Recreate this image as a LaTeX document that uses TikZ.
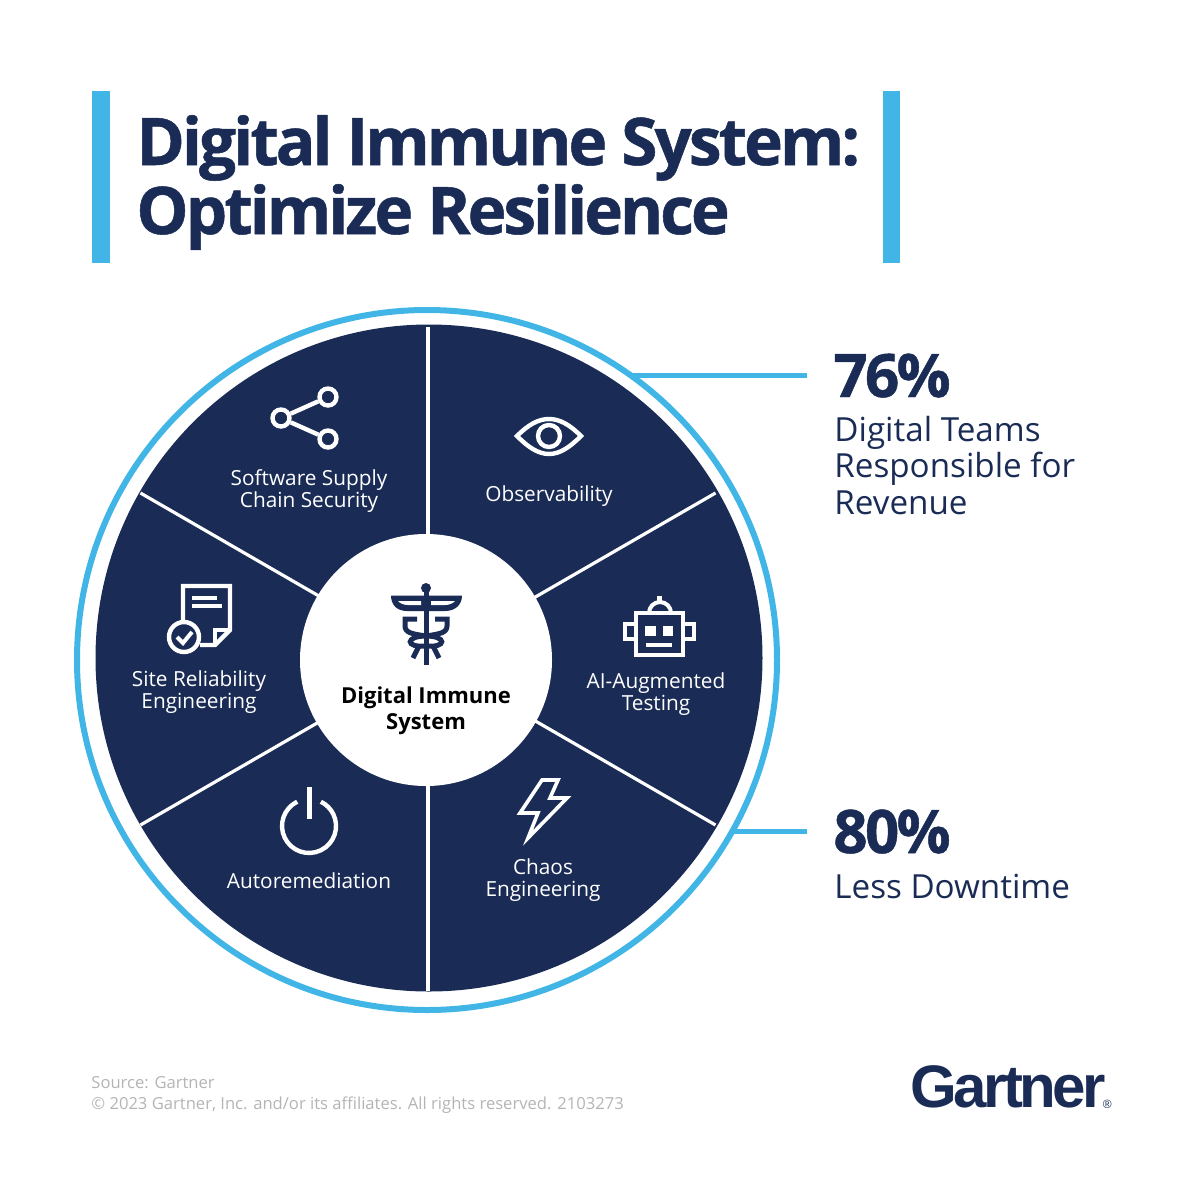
\documentclass[tikz,border=0pt]{standalone}
\usepackage{fontspec}
\setmainfont{Open Sans}
\newfontfamily\logofont{Liberation Sans}[LetterSpace=-6]
\usetikzlibrary{positioning,calc}
\definecolor{navy}{HTML}{1A2C56}
\definecolor{sky}{HTML}{41B6E6}
\definecolor{srcgrey}{HTML}{B4B4B4}
\newcommand{\heavy}{\bfseries\addfontfeature{LetterSpace=-4.5,FakeBold=0.8}}
\tikzstyle{every node}=[inner sep=0pt]
\tikzstyle{seglabel}=[text=white,align=center,font=\fontsize{10.4}{11}\selectfont]
\tikzstyle{icon}=[draw=white,line width=2.2pt,fill=none]
\tikzstyle{stat}=[text=navy,anchor=base west,font=\fontsize{30}{30}\selectfont\heavy]
\tikzstyle{statnote}=[text=navy,anchor=base west,align=left,font=\fontsize{16.6}{18.25}\selectfont]
\tikzstyle{snake}=[draw=navy,line width=2.5pt,fill=none]
\begin{document}
\begin{tikzpicture}[x=0.5pt,y=-0.5pt]
  \useasboundingbox (0,0) rectangle (1200,1200);
  \fill[sky] (92,91) rectangle (110,263);
  \fill[sky] (883,91) rectangle (900,263);
  \node[anchor=base west,text=navy,align=left,font=\fontsize{32.8}{34.5}\selectfont\heavy] (title) at (136,234) {Digital Immune System:\\Optimize Resilience};
  \coordinate (c) at (428,659);
  \node[circle,draw=sky,line width=3pt,minimum size=350pt] (ring) at (427,660) {};
  \node[circle,fill=navy,minimum size=333.5pt] (disc) at (429,658) {};
  \foreach \a in {90,30,-30,-90,-150,150} {
    \coordinate (s\a) at ($(c)+(\a:332)$);
    \draw[white,line width=1.6pt] (c) -- (s\a);
  }
  \node[circle,fill=white,minimum size=126pt] (hub) at (426,660) {};
  % callouts
  \coordinate (r76) at (632,375);
  \coordinate (r80) at (733,831);
  \coordinate (a76) at (807,375);
  \coordinate (a80) at (807,831);
  \draw[sky,line width=2.5pt] (r76) -- (a76);
  \draw[sky,line width=2.5pt] (r80) -- (a80);
  \node[stat] (p76) at (833,397) {76\%};
  \node[statnote] (t76) at (834,514) {Digital Teams\\Responsible for\\Revenue};
  \node[stat] (p80) at (833,853) {80\%};
  \node[statnote] (t80) at (834,898) {Less Downtime};
  % segment labels
  \node[seglabel] (supply) at (309,491) {Software Supply\\Chain Security};
  \node[seglabel] (observ) at (549,496) {Observability};
  \node[seglabel] (aitest) at (656,694) {AI-Augmented\\Testing};
  \node[seglabel] (chaos) at (543,880) {Chaos\\Engineering};
  \node[seglabel] (auto) at (309,881) {Autoremediation};
  \node[seglabel] (site) at (199,692) {Site Reliability\\Engineering};
  \node[align=center,text=black,font=\fontsize{11}{13.2}\selectfont\bfseries] (centre) at (426,711) {Digital Immune\\System};
  % share
  \node[circle,icon,minimum size=8.5pt] (n1) at (328,397) {};
  \node[circle,icon,minimum size=8.5pt] (n2) at (281,418) {};
  \node[circle,icon,minimum size=8.5pt] (n3) at (328,439) {};
  \draw[icon] (n2) -- (n1);
  \draw[icon] (n2) -- (n3);
  % eye
  \draw[icon] (517,436) .. controls (528,425) and (538,419) .. (549,419) .. controls (560,419) and (570,425) .. (581,436) .. controls (570,447) and (560,454) .. (549,454) .. controls (538,454) and (528,447) .. cycle;
  \node[circle,icon,minimum size=11pt] (pupil) at (549,436) {};
  % robot
  \draw[icon] (636,613) rectangle (683,655);
  \draw[icon] (636,624) -- (625,624) -- (625,639) -- (636,639);
  \draw[icon] (683,624) -- (694,624) -- (694,639) -- (683,639);
  \fill[white] (645,626) rectangle (656,636);
  \fill[white] (663,626) rectangle (673,636);
  \fill[white] (646,643) rectangle (672,647);
  \draw[icon,line width=2pt] (649,613) arc[start angle=180,end angle=0,radius=5.5pt];
  \fill[white] (656.5,596) rectangle (661.5,604);
  % bolt
  \draw[icon,line width=1.8pt,line join=miter] (542,780) -- (558,780) -- (550,798) -- (567,798) -- (528,838) -- (538,813) -- (520,813) -- cycle;
  % power
  \draw[icon] (297.2,801.7) arc[start angle=116,end angle=424,radius=13.5pt];
  \draw[icon,line width=2.5pt] (309,787) -- (309,819);
  % document
  \draw[icon,line join=miter] (183,620) -- (183,586) -- (230,586) -- (230,630) -- (215,645) -- (200,645);
  \draw[icon,line join=miter] (230,630) -- (215,630) -- (215,645);
  \draw[icon] (192,598) -- (217,598);
  \draw[icon] (192,606) -- (222,606);
  \node[circle,icon,minimum size=15pt] (badge) at (184,637) {};
  \draw[icon,line width=2pt] (177,637) -- (183,643) -- (192,632);
  % caduceus
  \fill[navy] (391,595.5) -- (462,595.5) .. controls (462,605) and (455,611) .. (445,611) -- (407,611) .. controls (397,611) and (391,605) .. cycle;
  \fill[white] (398,601) -- (421,601) -- (421,605) -- (408,605) .. controls (403,605) and (400,603) .. cycle;
  \fill[white] (455,601) -- (431,601) -- (431,605) -- (445,605) .. controls (450,605) and (453,603) .. cycle;
  \draw[navy,line width=2.5pt] (426,588) -- (426,665);
  \fill[navy] (426,588) circle (2.5pt);
  \draw[snake] (417,619) -- (405,619) -- (405,626) .. controls (405,633) and (413,634) .. (426,636) .. controls (439,634) and (447,633) .. (447,626) -- (447,619) -- (435,619);
  \draw[snake] (426,636) .. controls (405,636) and (405,648) .. (426,646) .. controls (447,648) and (447,636) .. (426,636);
  \draw[snake] (419,646) -- (413,658);
  \draw[snake] (433,646) -- (439,658);
  % footer
  \node[anchor=base west,text=srcgrey,align=left,font=\fontsize{8.3}{10.5}\selectfont] (source) at (91,1109) {Source: Gartner\\\textcopyright{} 2023 Gartner, Inc. and/or its affiliates. All rights reserved. 2103273};
  \node[anchor=base west,text=navy,font=\fontsize{30}{30}\selectfont\logofont\bfseries] (logo) at (910,1107) {Gartner};
  \node[anchor=base east,text=navy,font=\fontsize{6}{6}\selectfont\logofont] (reg) at (1112,1108) {\textregistered};
\end{tikzpicture}
\end{document}
